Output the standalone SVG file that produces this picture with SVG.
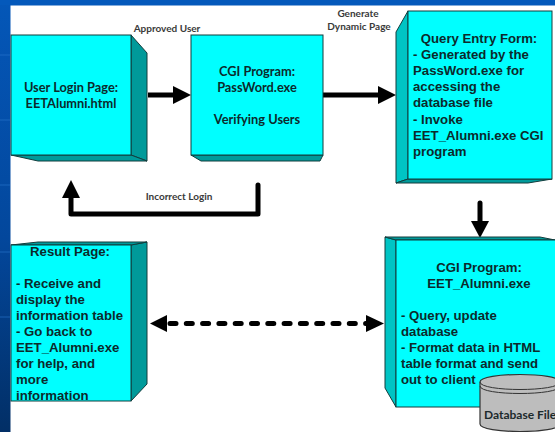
<svg xmlns="http://www.w3.org/2000/svg" width="555" height="432" viewBox="0 0 555 432">
<style>
.f{fill:#00ffff;stroke:#123c3c;stroke-width:1}
.d{fill:#009a9a;stroke:#123c3c;stroke-width:1}
.l{fill:#00c4c4;stroke:#123c3c;stroke-width:1}
text{font-family:"Liberation Sans",Arial,sans-serif;font-weight:700;font-size:13.2px;fill:#0c2a2c}
.c{text-anchor:middle}
.b{font-family:Lato,"Open Sans",sans-serif;font-size:12.8px}
.s{font-family:Lato,"Open Sans",sans-serif;font-size:10px;fill:#3a3a3a}
.n{font-family:Lato,"Open Sans",sans-serif;font-size:12px;fill:#1c2a2c}
.a{fill:none;stroke:#000;stroke-width:5;stroke-linecap:round;stroke-linejoin:round}
.g{stroke:#2a78cf;stroke-width:1;opacity:.6}
</style>
<defs>
<linearGradient id="bg" x1="0" y1="0" x2="0" y2="1"><stop offset="0" stop-color="#0457b8"/><stop offset="0.55" stop-color="#03479c"/><stop offset="1" stop-color="#022f66"/></linearGradient>
</defs>
<rect width="555" height="432" fill="url(#bg)"/>
<rect x="0" y="0" width="555" height="5" fill="#0459bb"/>
<path class="g" d="M0 55H10M0 120H10M0 185H10M0 252H10M0 317H10"/>
<rect x="10.500" y="5.500" width="545" height="427" fill="#fff"/>
<g id="connectors">
<path class="a" d="M148 95H176" style="stroke-linecap:butt"/><path d="M191 95L173 86V104Z"/>
<path class="a" d="M322 95H380"/><path d="M396 95L378 86V104Z"/>
<path class="a" d="M258 185V214H71V198"/><path d="M71 180L62 198H80Z"/>
<path class="a" d="M480 203V226"/><path d="M480 238L471 221H489Z"/>
<path class="a" d="M170 323.500H368" stroke-dasharray="6 10.300"/>
<path d="M150 323.500L167 315V332Z"/><path d="M384 323.500L366 315V332Z"/>
</g>
<text class="s c" x="167" y="32">Approved User</text>
<text class="s c" x="358" y="17">Generate</text>
<text class="s c" x="359" y="30">Dynamic Page</text>
<text class="s c" x="179" y="200">Incorrect Login</text>
<g id="login">
<path class="d" d="M131 35L147 53V161L131 155Z"/><path class="d" d="M11 155H131L147 161H38Z"/>
<rect class="f" x="11" y="35" width="120" height="120"/>
<text class="b c" x="71" y="91.500">User Login Page:</text><text class="b c" x="71" y="108">EETAlumni.html</text>
</g>
<g id="cgi-password">
<path class="d" d="M191 155H323L320 161H201Z"/>
<rect class="f" x="191" y="35" width="132" height="120"/>
<text class="b c" x="257" y="75.500">CGI Program:</text><text class="b c" x="257" y="92">PassWord.exe</text><text class="b c" x="257" y="124">Verifying Users</text>
</g>
<g id="query-form">
<path class="l" d="M396 32L408 11V179L396 183Z"/><path class="d" d="M396 183L408 179H552L528 183Z"/>
<rect class="f" x="408" y="11" width="144" height="168"/>
<text class="c" x="479" y="43">Query Entry Form:</text>
<text x="413" y="59">- Generated by the</text><text x="413" y="75">PassWord.exe for</text><text x="413" y="91">accessing the</text><text x="413" y="107">database file</text><text x="413" y="124">- Invoke</text><text x="413" y="140">EET_Alumni.exe CGI</text><text x="413" y="156">program</text>
</g>
<g id="result">
<path class="d" d="M131 245L147 242V384L131 401Z"/><path class="d" d="M11 245L38 242H147L131 245Z"/>
<rect class="f" x="11" y="245" width="120" height="156"/>
<text class="c" x="70" y="256">Result Page:</text>
<text x="16" y="288">- Receive and</text><text x="16" y="304">display the</text><text x="16" y="320">information table</text><text x="16" y="336">- Go back to</text><text x="16" y="352">EET_Alumni.exe</text><text x="16" y="368">for help, and</text><text x="16" y="384">more</text><text x="16" y="400">information</text>
</g>
<g id="cgi-alumni">
<path class="l" d="M385 237L396 240V407L385 388Z"/><path class="d" d="M385 237H540L555 240H396Z"/>
<rect class="f" x="396" y="240" width="160" height="167"/>
<text class="c" x="479" y="272">CGI Program:</text><text class="c" x="479" y="288">EET_Alumni.exe</text>
<text x="401" y="320">- Query, update</text><text x="401" y="336">database</text><text x="401" y="352">- Format data in HTML</text><text x="401" y="368">table format and send</text><text x="401" y="384">out to client</text>
</g>
<g id="database">
<path d="M480 382C480 372 560 372 560 382V424C560 434 480 434 480 424Z" fill="#bdbdbd" stroke="#333" stroke-width="1.200"/>
<path d="M480 382C480 392 560 392 560 382M480 386C480 396 560 396 560 386" fill="none" stroke="#333" stroke-width="1"/>
<text class="n" x="484" y="419">Database File</text>
</g>
</svg>
